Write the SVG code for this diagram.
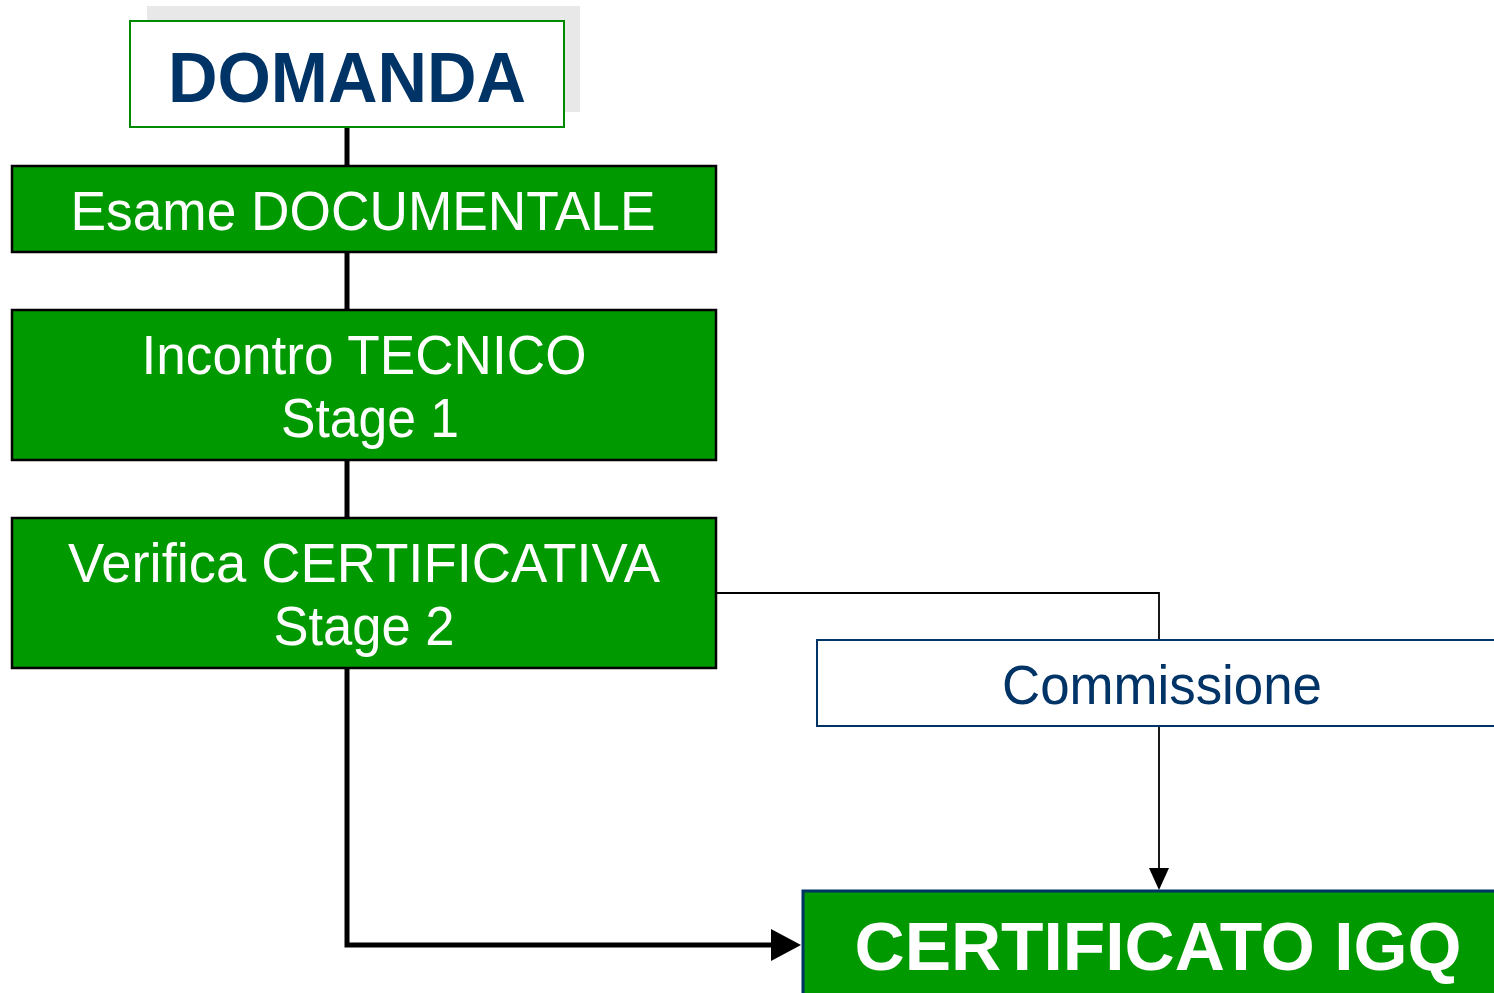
<svg xmlns="http://www.w3.org/2000/svg" width="1494" height="993" viewBox="0 0 1494 993">
<style>
.step{fill:#009900;stroke:#000;stroke-width:2.5}
.wt{fill:#fff;font-family:"Liberation Sans",Arial,sans-serif;font-size:55px;text-anchor:middle}
.bt{font-family:"Liberation Sans",Arial,sans-serif;font-weight:bold;text-anchor:middle}
.thick{fill:none;stroke:#000;stroke-width:5}
.thin{fill:none;stroke:#000;stroke-width:1.8}
</style>
<defs>
<marker id="ah" markerWidth="14" markerHeight="12" refX="14" refY="6" orient="auto" markerUnits="userSpaceOnUse">
<path d="M0,0 L14,6 L0,12 Z" fill="#000"/>
</marker>
</defs>
<rect width="1494" height="993" fill="#fff"/>
<g id="connectors">
<line class="thick" x1="347" y1="127" x2="347" y2="166"/>
<line class="thick" x1="347" y1="252" x2="347" y2="310"/>
<line class="thick" x1="347" y1="460" x2="347" y2="518"/>
<polyline class="thick" points="347,668 347,945 773,945"/>
<polygon points="771,929 801,945 771,961" fill="#000"/>
<polyline class="thin" points="716,593 1159,593 1159,640"/>
<line class="thin" x1="1159" y1="726" x2="1159" y2="870"/>
<polygon points="1149,868 1169,868 1159,890" fill="#000"/>
</g>
<g id="domanda">
<rect x="147" y="6" width="433" height="106" fill="#e8e8e8"/>
<rect x="130" y="21" width="434" height="106" fill="#fff" stroke="#008a00" stroke-width="2"/>
<text class="bt" x="347" y="102" font-size="70" fill="#003366" textLength="358" lengthAdjust="spacingAndGlyphs">DOMANDA</text>
</g>
<g id="esame">
<rect class="step" x="12" y="166" width="704" height="86"/>
<text class="wt" x="363" y="230" textLength="585" lengthAdjust="spacingAndGlyphs">Esame DOCUMENTALE</text>
</g>
<g id="incontro">
<rect class="step" x="12" y="310" width="704" height="150"/>
<text class="wt" x="364" y="374" textLength="445" lengthAdjust="spacingAndGlyphs">Incontro TECNICO</text>
<text class="wt" x="370" y="437" textLength="178" lengthAdjust="spacingAndGlyphs">Stage 1</text>
</g>
<g id="verifica">
<rect class="step" x="12" y="518" width="704" height="150"/>
<text class="wt" x="364" y="582" textLength="592" lengthAdjust="spacingAndGlyphs">Verifica CERTIFICATIVA</text>
<text class="wt" x="364" y="645" textLength="181" lengthAdjust="spacingAndGlyphs">Stage 2</text>
</g>
<g id="commissione">
<rect x="817" y="640" width="720" height="86" fill="#fff" stroke="#003366" stroke-width="2"/>
<text x="1162" y="704" font-family="'Liberation Sans',Arial,sans-serif" font-size="55" fill="#003366" text-anchor="middle" textLength="320" lengthAdjust="spacingAndGlyphs">Commissione</text>
</g>
<g id="certificato">
<rect x="803" y="891" width="720" height="130" fill="#009900" stroke="#003366" stroke-width="3"/>
<text class="bt" x="1158" y="970" font-size="68" fill="#fff" textLength="607" lengthAdjust="spacingAndGlyphs">CERTIFICATO IGQ</text>
</g>
</svg>
